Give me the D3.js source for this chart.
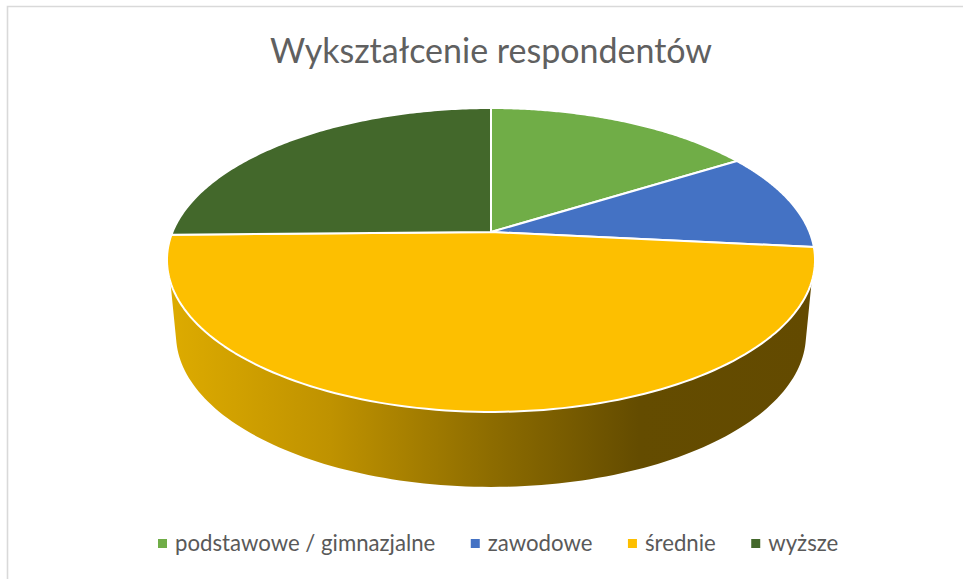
<!DOCTYPE html>
<html lang="pl">
<head>
<meta charset="utf-8">
<title>Wykształcenie respondentów</title>
<script src="https://cdn.jsdelivr.net/npm/d3@7"></script>
<style>
  html, body { margin: 0; padding: 0; background: #fff; }
  svg { display: block; }
  text { font-family: Lato, "Open Sans", sans-serif; fill: #595959; }
</style>
</head>
<body>
<svg id="chart" width="963" height="579"></svg>
<script>
// Chart content
const chartTitle = "Wykształcenie respondentów";
const categories = ["podstawowe / gimnazjalne", "zawodowe", "średnie", "wyższe"];
const shares = [16.1, 10.5, 48.1, 25.3];
const colors = ["#70AD47", "#4472C4", "#FDBF00", "#43682B"];

// Tilted disc: a unit circle seen in perspective, apex at (cx, cy)
const cx = 491, cy = 232;
const radiusX = 318.5, radiusY = 146.8, depth = 0.184;
const wallHeight = 75, wallShrink = 0.972;

const rimX = d3.scaleLinear().domain([-1, 1]).range([cx - radiusX, cx + radiusX]);
const rimY = d3.scaleLinear().domain([-1, 1]).range([cy + radiusY, cy - radiusY]);

function project(a) {
  const u = Math.sin(a), v = Math.cos(a), w = 1 + depth * v;
  return [cx + (rimX(u) - cx) / w, cy + (rimY(v) - cy) / w];
}
function projectFloor(a) {
  const [x, y] = project(a);
  return [cx + (x - cx) * wallShrink, y + wallHeight];
}
const sweep = (a0, a1, n = 120) => d3.range(n + 1).map(i => a0 + (a1 - a0) * i / n);

const svg = d3.select("#chart");
const line = d3.line();

// Chart area border: only the top and left edges show
svg.append("path")
  .attr("d", "M7.5,579V6.5H963")
  .attr("fill", "none")
  .attr("stroke", "#d9d9d9")
  .attr("stroke-width", 1.6);

// Shading of the disc's side wall, lit from the left
const grad = svg.append("defs").append("linearGradient")
  .attr("id", "wallShade")
  .attr("gradientUnits", "userSpaceOnUse")
  .attr("x1", 170).attr("x2", 812).attr("y1", 0).attr("y2", 0);
[[0, "#DDAB00"], [0.25, "#BF9200"], [0.5, "#8D6C00"], [0.73, "#644C00"], [1, "#634A00"]]
  .forEach(([o, c]) => grad.append("stop").attr("offset", o).attr("stop-color", c));

// Side wall: only the front of the largest slice is visible
const wallTop = 108.7 * Math.PI / 180;      // where the rim meets the silhouette
const wallFloor = 103.6 * Math.PI / 180;
const wallPoints = [
  ...sweep(wallTop, 2 * Math.PI - wallTop).map(project),
  ...sweep(2 * Math.PI - wallFloor, wallFloor).map(projectFloor)
];
svg.append("path")
  .attr("d", line(wallPoints) + "Z")
  .attr("fill", "url(#wallShade)");

// Top face of the pie
const pie = d3.pie().sort(null).value(d => d.share);
const slices = pie(categories.map((name, i) => ({ name, share: shares[i], color: colors[i] })));

svg.append("g").selectAll("path")
  .data(slices)
  .join("path")
  .attr("d", d => line([[cx, cy], ...sweep(d.startAngle, d.endAngle).map(project)]) + "Z")
  .attr("fill", d => d.data.color)
  .attr("stroke", "#fff")
  .attr("stroke-width", 2)
  .attr("stroke-linejoin", "round");

// Title
svg.append("text")
  .attr("x", 491).attr("y", 63)
  .attr("text-anchor", "middle")
  .attr("font-size", 35)
  .attr("font-weight", 400)
  .attr("textLength", 442)
  .attr("lengthAdjust", "spacingAndGlyphs")
  .style("fill", "#606060")
  .text(chartTitle);

// Legend, laid out in one row
const legend = svg.append("g");
let legendX = 158;
categories.forEach((name, i) => {
  const item = legend.append("g").attr("transform", `translate(${legendX},0)`);
  item.append("rect")
    .attr("x", 0).attr("y", 539)
    .attr("width", 9).attr("height", 9)
    .attr("fill", colors[i]);
  const label = item.append("text")
    .attr("x", 17).attr("y", 551)
    .attr("font-size", 22.2)
    .text(name);
  legendX += 17 + label.node().getComputedTextLength() + 35.5;
});
</script>
</body>
</html>
